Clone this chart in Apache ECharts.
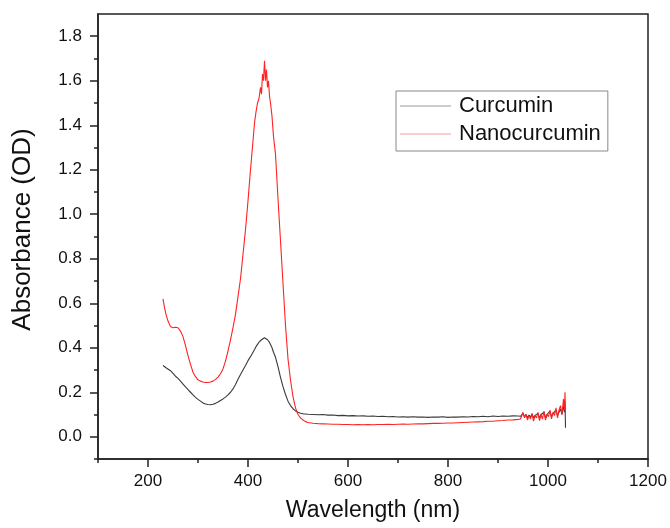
<!DOCTYPE html>
<html>
<head>
<meta charset="utf-8">
<script src="https://cdn.jsdelivr.net/npm/echarts@6/dist/echarts.min.js"></script>
<style>html,body{margin:0;padding:0;background:#fff}#c{width:670px;height:528px}</style>
</head>
<body>
<div id="c"></div>
<script>
const wavelengths = [
  230,233,236,240,245,250,255,260,265,270,
  275,280,285,290,295,300,305,310,315,320,
  325,330,335,340,345,350,355,360,365,370,
  375,380,385,390,395,400,405,410,413,416,
  419,422,425,427,429,431,433,435,437,439,
  441,443,445,448,451,455,460,465,470,475,
  480,485,490,495,500,505,510,515,520,530,
  540,550,560,570,580,590,600,610,620,630,
  640,650,660,670,680,690,700,710,720,730,
  740,750,760,770,780,790,800,810,820,830,
  840,850,860,870,880,890,900,910,920,930,
  940,945,950,953,956,959,962,965,968,971,
  974,977,980,983,986,989,992,995,998,1001,
  1004,1007,1010,1013,1016,1019,1022,1025,1028,1031,
  1033,1034,1035
];
const curcumin = [
  0.32,0.318,0.31,0.305,0.297,0.285,0.272,0.262,0.25,0.237,
  0.224,0.212,0.2,0.188,0.177,0.168,0.16,0.152,0.147,0.145,
  0.144,0.146,0.15,0.156,0.163,0.17,0.178,0.188,0.2,0.215,
  0.235,0.258,0.28,0.3,0.32,0.342,0.36,0.38,0.392,0.405,
  0.415,0.425,0.432,0.436,0.44,0.442,0.445,0.443,0.44,0.436,
  0.43,0.424,0.415,0.4,0.38,0.357,0.315,0.267,0.225,0.19,
  0.16,0.14,0.126,0.116,0.11,0.106,0.103,0.102,0.101,0.1,
  0.099,0.1,0.097,0.098,0.095,0.096,0.094,0.095,0.093,0.094,
  0.092,0.093,0.091,0.092,0.09,0.091,0.089,0.09,0.088,0.09,
  0.088,0.089,0.087,0.089,0.088,0.09,0.087,0.089,0.088,0.09,
  0.089,0.091,0.09,0.092,0.09,0.093,0.091,0.093,0.092,0.094,
  0.093,0.092,0.105,0.09,0.1,0.085,0.098,0.088,0.102,0.084,
  0.096,0.09,0.105,0.082,0.1,0.092,0.11,0.085,0.1,0.095,
  0.115,0.09,0.105,0.1,0.12,0.095,0.11,0.125,0.1,0.14,
  0.11,0.16,0.04
];
const nanocurcumin = [
  0.62,0.58,0.55,0.52,0.495,0.49,0.492,0.49,0.475,0.45,
  0.41,0.365,0.325,0.29,0.27,0.256,0.25,0.246,0.244,0.244,
  0.246,0.25,0.258,0.268,0.283,0.305,0.34,0.385,0.435,0.49,
  0.55,0.63,0.71,0.82,0.93,1.06,1.2,1.33,1.41,1.46,
  1.5,1.52,1.57,1.54,1.63,1.6,1.69,1.6,1.65,1.57,
  1.6,1.53,1.5,1.44,1.35,1.27,1.07,0.88,0.69,0.5,
  0.35,0.255,0.18,0.13,0.1,0.085,0.075,0.068,0.064,0.061,
  0.059,0.058,0.057,0.056,0.056,0.055,0.055,0.054,0.055,0.054,
  0.055,0.054,0.055,0.055,0.056,0.055,0.056,0.057,0.056,0.057,
  0.058,0.058,0.059,0.06,0.06,0.061,0.062,0.062,0.063,0.064,
  0.065,0.066,0.067,0.068,0.07,0.07,0.072,0.073,0.075,0.076,
  0.078,0.08,0.11,0.085,0.1,0.075,0.095,0.08,0.105,0.07,
  0.095,0.085,0.11,0.072,0.1,0.08,0.115,0.075,0.1,0.09,
  0.12,0.08,0.11,0.095,0.13,0.085,0.12,0.14,0.1,0.17,
  0.12,0.2,0.09
];
const seriesNames = ['Curcumin', 'Nanocurcumin'];
const xMajorTicks = [200, 400, 600, 800, 1000, 1200];
const xMinorTicks = [100, 300, 500, 700, 900, 1100];
const yMajorTicks = [0, 0.2, 0.4, 0.6, 0.8, 1.0, 1.2, 1.4, 1.6, 1.8];
const yMinorTicks = [-0.1, 0.1, 0.3, 0.5, 0.7, 0.9, 1.1, 1.3, 1.5, 1.7];

const zip = (xs, ys) => xs.map((x, i) => [x, ys[i]]);
const FONT = '"Liberation Sans", Arial, sans-serif';
const AX = '#222';

const chart = echarts.init(document.getElementById('c'), null, {renderer: 'canvas'});
chart.setOption({
  animation: false,
  backgroundColor: '#fff',
  textStyle: {fontFamily: FONT},
  grid: {left: 98, right: 22, top: 14, bottom: 69, show: true, borderColor: AX, borderWidth: 1.5, backgroundColor: 'transparent'},
  legend: {
    orient: 'vertical', left: 396, top: 91,
    icon: 'rect', itemWidth: 51, itemHeight: 1, itemGap: 4,
    padding: [3, 7, 5, 4],
    borderColor: '#888', borderWidth: 1,
    textStyle: {fontSize: 22, lineHeight: 24, color: '#111', fontFamily: FONT, padding: [0, 0, 0, 3]},
    data: [
      {name: seriesNames[0], itemStyle: {color: '#9a9a9a'}},
      {name: seriesNames[1], itemStyle: {color: '#f5a0a0'}}
    ]
  },
  xAxis: [
    {
      type: 'value', min: 100, max: 1200, position: 'bottom',
      name: 'Wavelength (nm)', nameLocation: 'middle', nameGap: 40,
      nameTextStyle: {fontSize: 23, color: '#111', fontFamily: FONT},
      axisLine: {show: true, onZero: false, lineStyle: {color: AX, width: 1.5}},
      axisTick: {show: true, customValues: xMajorTicks, length: 8, inside: false, lineStyle: {color: AX, width: 1.5}},
      axisLabel: {customValues: xMajorTicks, fontSize: 17, color: '#111', margin: 14, fontFamily: FONT,
        formatter: v => String(Math.round(v))},
      splitLine: {show: false}
    },
    {
      type: 'value', min: 100, max: 1200, position: 'bottom',
      axisLine: {show: false, onZero: false},
      axisTick: {show: true, customValues: xMinorTicks, length: 4, inside: false, lineStyle: {color: AX, width: 1.5}},
      axisLabel: {show: false},
      splitLine: {show: false}
    }
  ],
  yAxis: [
    {
      type: 'value', min: -0.1, max: 1.9, position: 'left',
      name: 'Absorbance (OD)', nameLocation: 'middle', nameGap: 62,
      nameTextStyle: {fontSize: 26, color: '#111', fontFamily: FONT, padding: [0, 0, 0, 14]},
      axisLine: {show: true, onZero: false, lineStyle: {color: AX, width: 1.5}},
      axisTick: {show: true, customValues: yMajorTicks, length: 8, inside: false, lineStyle: {color: AX, width: 1.5}},
      axisLabel: {customValues: yMajorTicks, fontSize: 17, color: '#111', margin: 16, fontFamily: FONT,
        formatter: v => Number(v).toFixed(1)},
      splitLine: {show: false}
    },
    {
      type: 'value', min: -0.1, max: 1.9, position: 'left',
      axisLine: {show: false, onZero: false},
      axisTick: {show: true, customValues: yMinorTicks, length: 4, inside: false, lineStyle: {color: AX, width: 1.5}},
      axisLabel: {show: false},
      splitLine: {show: false}
    }
  ],
  series: [
    {
      name: seriesNames[0], type: 'line', xAxisIndex: 0, yAxisIndex: 0,
      data: zip(wavelengths, curcumin), symbol: 'none', showSymbol: false,
      lineStyle: {color: '#3a3a3a', width: 1.1}, itemStyle: {color: '#3a3a3a'}, z: 3
    },
    {
      name: seriesNames[1], type: 'line', xAxisIndex: 0, yAxisIndex: 0,
      data: zip(wavelengths, nanocurcumin), symbol: 'none', showSymbol: false,
      lineStyle: {color: '#ff2222', width: 1.1}, itemStyle: {color: '#ff2222'}, z: 4
    }
  ]
});
</script>
</body>
</html>
